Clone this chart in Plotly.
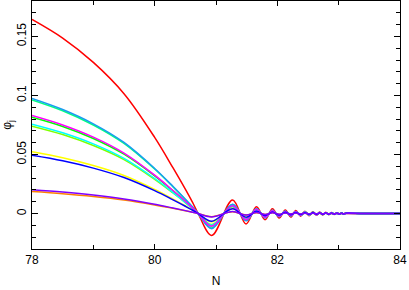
import plotly.graph_objects as go

# Sample positions in N (smooth part, zero crossing, then oscillation extrema)
N = [78.0, 78.5, 79.0, 79.5, 80.0, 80.3, 80.5, 80.62, 80.71,
     80.93, 81.27, 81.49, 81.66, 81.80, 81.92, 82.03, 82.13, 82.22, 82.30,
     82.38, 82.45, 82.52, 82.58, 82.64, 82.69, 82.74, 82.79, 82.84, 82.88,
     82.93, 82.97, 83.01, 83.05, 83.08, 83.12, 83.4, 84.0]

phi_red = [0.1644, 0.1486, 0.1280, 0.1015, 0.0645, 0.0386, 0.0206, 0.0092, 0.0,
           -0.0185, 0.0115, -0.0088, 0.0058, -0.0052, 0.0040, -0.0038, 0.0031, -0.0029, 0.0025,
           -0.0023, 0.0020, -0.0018, 0.0016, -0.0015, 0.0013, -0.0012, 0.0011, -0.0010, 0.0009,
           -0.0008, 0.0007, -0.0006, 0.0006, -0.0005, 0.0005, 0.0, 0.0]
phi_orange = [0.0186, 0.0168, 0.0145, 0.0115, 0.0073, 0.0044, 0.0023, 0.0010, 0.0,
              -0.0026, 0.0016, -0.0012, 0.0008, -0.0007, 0.0006, -0.0005, 0.0004, -0.0004, 0.0004,
              -0.0003, 0.0003, -0.0003, 0.0002, -0.0002, 0.0002, -0.0002, 0.0002, -0.0001, 0.0001,
              -0.0001, 0.0001, -0.0001, 0.0001, -0.0001, 0.0001, 0.0, 0.0]
phi_yellow = [0.0523, 0.0473, 0.0407, 0.0323, 0.0205, 0.0123, 0.0065, 0.0029, 0.0,
              -0.0070, 0.0044, -0.0033, 0.0022, -0.0020, 0.0015, -0.0014, 0.0012, -0.0011, 0.0010,
              -0.0009, 0.0008, -0.0007, 0.0006, -0.0006, 0.0005, -0.0005, 0.0004, -0.0004, 0.0003,
              -0.0003, 0.0003, -0.0002, 0.0002, -0.0002, 0.0002, 0.0, 0.0]
phi_chartreuse = [0.0740, 0.0669, 0.0576, 0.0457, 0.0290, 0.0174, 0.0093, 0.0041, 0.0,
                  -0.0093, 0.0058, -0.0044, 0.0029, -0.0026, 0.0020, -0.0019, 0.0016, -0.0015, 0.0013,
                  -0.0012, 0.0010, -0.0009, 0.0008, -0.0008, 0.0007, -0.0006, 0.0006, -0.0005, 0.0005,
                  -0.0004, 0.0004, -0.0003, 0.0003, -0.0003, 0.0003, 0.0, 0.0]
phi_green = [0.0816, 0.0738, 0.0636, 0.0503, 0.0320, 0.0192, 0.0102, 0.0046, 0.0,
             -0.0104, 0.0064, -0.0049, 0.0032, -0.0029, 0.0022, -0.0021, 0.0017, -0.0016, 0.0014,
             -0.0013, 0.0011, -0.0010, 0.0009, -0.0008, 0.0007, -0.0007, 0.0006, -0.0006, 0.0005,
             -0.0004, 0.0004, -0.0003, 0.0003, -0.0003, 0.0003, 0.0, 0.0]
phi_springgreen = [0.0963, 0.0871, 0.0750, 0.0594, 0.0377, 0.0226, 0.0120, 0.0054, 0.0,
                   -0.0122, 0.0076, -0.0058, 0.0038, -0.0034, 0.0026, -0.0025, 0.0020, -0.0019, 0.0017,
                   -0.0015, 0.0013, -0.0012, 0.0011, -0.0010, 0.0009, -0.0008, 0.0007, -0.0007, 0.0006,
                   -0.0005, 0.0005, -0.0004, 0.0004, -0.0003, 0.0003, 0.0, 0.0]
phi_cyan = [0.0757, 0.0684, 0.0590, 0.0467, 0.0297, 0.0178, 0.0095, 0.0042, 0.0,
            -0.0098, 0.0061, -0.0047, 0.0031, -0.0028, 0.0021, -0.0020, 0.0016, -0.0015, 0.0013,
            -0.0012, 0.0011, -0.0010, 0.0008, -0.0008, 0.0007, -0.0006, 0.0006, -0.0005, 0.0005,
            -0.0004, 0.0004, -0.0003, 0.0003, -0.0003, 0.0003, 0.0, 0.0]
phi_azure = [0.0975, 0.0881, 0.0760, 0.0602, 0.0382, 0.0229, 0.0122, 0.0055, 0.0,
             -0.0128, 0.0079, -0.0061, 0.0040, -0.0036, 0.0028, -0.0026, 0.0021, -0.0020, 0.0017,
             -0.0016, 0.0014, -0.0012, 0.0011, -0.0010, 0.0009, -0.0008, 0.0008, -0.0007, 0.0006,
             -0.0006, 0.0005, -0.0004, 0.0004, -0.0003, 0.0003, 0.0, 0.0]
phi_magenta = [0.0830, 0.0750, 0.0647, 0.0512, 0.0325, 0.0195, 0.0104, 0.0046, 0.0,
               -0.0107, 0.0067, -0.0051, 0.0034, -0.0030, 0.0023, -0.0022, 0.0018, -0.0017, 0.0015,
               -0.0013, 0.0012, -0.0010, 0.0009, -0.0009, 0.0008, -0.0007, 0.0006, -0.0006, 0.0005,
               -0.0005, 0.0004, -0.0003, 0.0003, -0.0003, 0.0003, 0.0, 0.0]
phi_blue = [0.0494, 0.0447, 0.0385, 0.0305, 0.0194, 0.0116, 0.0062, 0.0028, 0.0,
            -0.0065, 0.0040, -0.0031, 0.0020, -0.0018, 0.0014, -0.0013, 0.0011, -0.0010, 0.0009,
            -0.0008, 0.0007, -0.0006, 0.0006, -0.0005, 0.0005, -0.0004, 0.0004, -0.0004, 0.0003,
            -0.0003, 0.0002, -0.0002, 0.0002, -0.0002, 0.0002, 0.0, 0.0]
phi_violet = [0.0201, 0.0182, 0.0157, 0.0124, 0.0079, 0.0047, 0.0025, 0.0011, 0.0,
              -0.0028, 0.0017, -0.0013, 0.0009, -0.0008, 0.0006, -0.0006, 0.0005, -0.0004, 0.0004,
              -0.0003, 0.0003, -0.0003, 0.0002, -0.0002, 0.0002, -0.0002, 0.0002, -0.0002, 0.0001,
              -0.0001, 0.0001, -0.0001, 0.0001, -0.0001, 0.0001, 0.0, 0.0]

series = [
    (phi_red, "#ff0000"),
    (phi_orange, "#ff8000"),
    (phi_yellow, "#ffff00"),
    (phi_chartreuse, "#80ff00"),
    (phi_green, "#00ff00"),
    (phi_springgreen, "#00ff80"),
    (phi_cyan, "#00ffff"),
    (phi_azure, "#1a9cf0"),
    (phi_magenta, "#ff00ff"),
    (phi_blue, "#0000ff"),
    (phi_violet, "#8000ff"),
]

x_ticks = [78, 80, 82, 84]
y_ticks = [0, 0.05, 0.1, 0.15]

fig = go.Figure()
for vals, col in series:
    fig.add_trace(go.Scatter(x=N, y=vals, mode="lines",
                             line=dict(color=col, width=1.5, shape="spline", smoothing=1.0),
                             showlegend=False, hoverinfo="skip"))

font = dict(family="Liberation Sans, Arial, sans-serif", size=12, color="black")
fig.update_layout(
    width=409, height=290,
    margin=dict(l=32, r=9, t=1, b=41, autoexpand=False),
    paper_bgcolor="white", plot_bgcolor="white",
    font=font,
    showlegend=False,
)
fig.update_xaxes(
    range=[78, 84], tickvals=x_ticks, ticktext=[str(v) for v in x_ticks],
    ticks="inside", ticklen=5, tickwidth=1, tickcolor="black",
    minor=dict(dtick=1, ticks="inside", ticklen=4, tickcolor="black", tickwidth=1),
    showline=True, linecolor="black", linewidth=1, mirror="allticks",
    showgrid=False, zeroline=False,
    title=dict(text="N", font=font, standoff=10),
)
fig.update_yaxes(
    range=[-0.03, 0.18], tickvals=y_ticks, ticktext=["0", "0.05", "0.1", "0.15"],
    tickangle=-90,
    ticks="inside", ticklen=6, tickwidth=1, tickcolor="black",
    minor=dict(dtick=0.01, tick0=0, ticks="inside", ticklen=4, tickcolor="black", tickwidth=1),
    showline=True, linecolor="black", linewidth=1, mirror="allticks",
    showgrid=False, zeroline=False,
    title=dict(text="φ<sub>j</sub>", font=font, standoff=2),
)
fig.write_html("out.html", config={"displayModeBar": False},
               post_script="document.body.style.margin='0px';document.body.style.padding='0px';")
